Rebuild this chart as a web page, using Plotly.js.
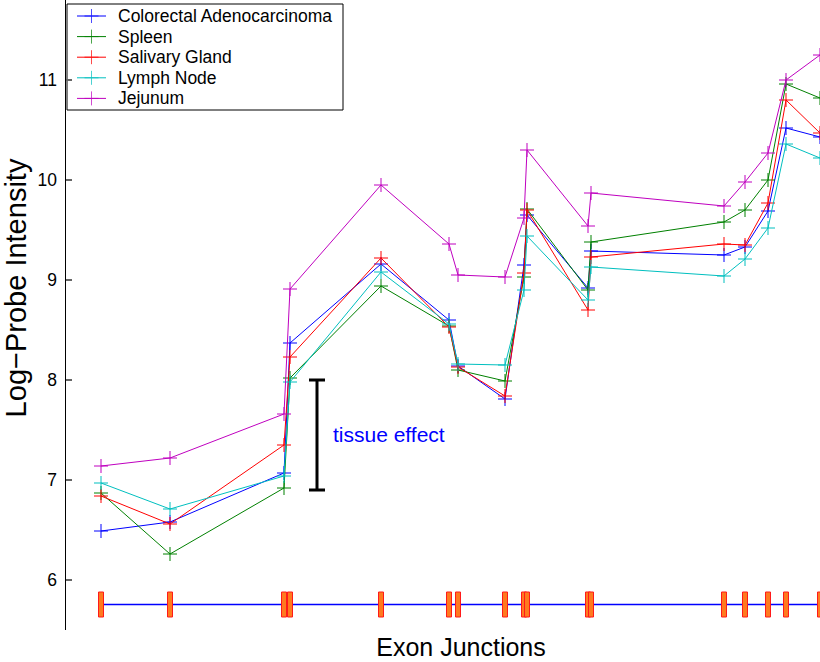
<!DOCTYPE html>
<html>
<head>
<meta charset="utf-8">
<script src="https://cdn.plot.ly/plotly-3.0.1.min.js"></script>
<style>
html,body{margin:0;padding:0;background:#fff;width:820px;height:662px;overflow:hidden;position:relative;}
#chart{position:absolute;left:0;top:-54px;width:856px;height:716px;}
</style>
</head>
<body>
<div id="chart"></div>
<script>
// Exon junction positions (horizontal position along the gene)
const junctionPos = [101, 170, 284, 290, 381, 449, 458, 505, 524, 527, 588, 591, 724, 745, 768, 786, 820];

// Series values (log-probe intensity)
const seriesNames = ["Colorectal Adenocarcinoma", "Spleen", "Salivary Gland", "Lymph Node", "Jejunum"];
const colorectal = [6.49, 6.58, 7.07, 8.37, 9.16, 8.60, 8.14, 7.81, 9.15, 9.65, 8.92, 9.29, 9.25, 9.33, 9.69, 10.52, 10.43];
const spleen     = [6.87, 6.26, 6.92, 8.02, 8.94, 8.54, 8.10, 7.99, 9.03, 9.71, 8.90, 9.38, 9.58, 9.70, 10.00, 10.96, 10.82];
const salivary   = [6.84, 6.56, 7.35, 8.23, 9.22, 8.53, 8.13, 7.84, 9.07, 9.70, 8.70, 9.23, 9.36, 9.35, 9.77, 10.80, 10.47];
const lymph      = [6.97, 6.71, 7.04, 7.98, 9.08, 8.56, 8.16, 8.15, 8.90, 9.44, 8.80, 9.13, 9.04, 9.21, 9.52, 10.36, 10.22];
const jejunum    = [7.14, 7.22, 7.66, 8.91, 9.95, 9.36, 9.05, 9.03, 9.62, 10.30, 9.54, 9.87, 9.74, 9.98, 10.27, 11.00, 11.25];
const seriesColors = ["#0000ff", "#008000", "#ff0000", "#00bfbf", "#bf00bf"];

// Y ticks
const yTicks = [6, 7, 8, 9, 10, 11];

// Exon track level and tissue-effect bar
const exonTrackY = 5.755;
const exonHalfHeight = 0.125;
const exonHalfWidth = 2.5;
const tissueEffect = {x: 317, low: 6.9, high: 8.0, label: "tissue effect"};

const FONT = "Liberation Sans, Arial, Helvetica, sans-serif";
const allSeries = [colorectal, spleen, salivary, lymph, jejunum];
const TOP_CROP = 54; // the figure is cropped at the top and right like the original

const traces = [];

// Exon track line
traces.push({
  x: [junctionPos[0], junctionPos[junctionPos.length - 1]],
  y: [exonTrackY, exonTrackY],
  mode: "lines",
  line: {color: "#0000ff", width: 1.3},
  showlegend: false, hoverinfo: "skip"
});

allSeries.forEach((vals, i) => {
  traces.push({
    x: junctionPos, y: vals, name: seriesNames[i],
    mode: "lines+markers",
    line: {color: seriesColors[i], width: 1},
    marker: {symbol: "cross-thin", size: 10, line: {color: seriesColors[i], width: 1}},
    showlegend: false
  });
});

// Tissue effect bar
traces.push({
  x: [tissueEffect.x], y: [(tissueEffect.low + tissueEffect.high) / 2],
  mode: "markers", marker: {color: "rgba(0,0,0,0)", size: 1},
  error_y: {type: "data", symmetric: true, array: [(tissueEffect.high - tissueEffect.low) / 2],
            color: "#000", thickness: 3, width: 8},
  showlegend: false, hoverinfo: "skip"
});

// Custom legend drawn on an overlay pixel axis
const legTop = 16 + TOP_CROP, legStep = 20.6;
const shapes = [];
const annotations = [];
shapes.push({type: "rect", xref: "x2", yref: "y2", x0: 67, x1: 343, y0: 4 + TOP_CROP, y1: 110 + TOP_CROP,
  line: {color: "#000", width: 1}, fillcolor: "#fff", layer: "below"});
seriesNames.forEach((nm, i) => {
  const yy = legTop + legStep * i;
  traces.push({
    x: [77, 91.5, 106], y: [yy, yy, yy], xaxis: "x2", yaxis: "y2",
    mode: "lines+markers",
    line: {color: seriesColors[i], width: 1},
    marker: {symbol: "cross-thin", size: [0, 10, 0], line: {color: seriesColors[i], width: 1}},
    showlegend: false, hoverinfo: "skip"
  });
  annotations.push({xref: "x2", yref: "y2", x: 116, y: yy, text: nm, showarrow: false,
    xanchor: "left", yanchor: "middle", font: {family: FONT, size: 17.5, color: "#000"}});
});

// Exon rectangles
junctionPos.forEach(p => {
  shapes.push({type: "rect", xref: "x", yref: "y",
    x0: p - exonHalfWidth, x1: p + exonHalfWidth,
    y0: exonTrackY - exonHalfHeight, y1: exonTrackY + exonHalfHeight,
    fillcolor: "#ff7a1f", line: {color: "#ff1a1a", width: 1}, layer: "above"});
});

annotations.push({xref: "x", yref: "y", x: 331, y: 7.46, text: tissueEffect.label, showarrow: false,
  xanchor: "left", yanchor: "middle", font: {family: FONT, size: 21, color: "#0000ff"}});

const layout = {
  width: 856, height: 716,
  margin: {l: 66, r: 0, t: 0, b: 32, pad: 0},
  paper_bgcolor: "#fff", plot_bgcolor: "#fff",
  font: {family: FONT, color: "#000"},
  showlegend: false,
  xaxis: {range: [66, 856], showgrid: false, zeroline: false, showline: false,
    showticklabels: false, ticks: "", fixedrange: true,
    title: {text: "Exon Junctions", font: {family: FONT, size: 25, color: "#000"}, standoff: 8}},
  yaxis: {range: [5.5, 12.34], showgrid: false, zeroline: false, showline: true,
    linecolor: "#000", linewidth: 1.5, ticks: "inside", ticklen: 6, tickwidth: 1.5,
    tickcolor: "#666", tickvals: yTicks, ticktext: yTicks.map(String),
    tickfont: {family: FONT, size: 17.5, color: "#000"}, ticklabelstandoff: 4,
    title: {text: "Log\u2212Probe Intensity", font: {family: FONT, size: 29, color: "#000"}, standoff: 2}},
  xaxis2: {overlaying: "x", range: [66, 856], visible: false, fixedrange: true},
  yaxis2: {overlaying: "y", range: [684, 0], visible: false, fixedrange: true},
  shapes: shapes,
  annotations: annotations
};

Plotly.newPlot("chart", traces, layout, {displayModeBar: false, staticPlot: true});
</script>
</body>
</html>
